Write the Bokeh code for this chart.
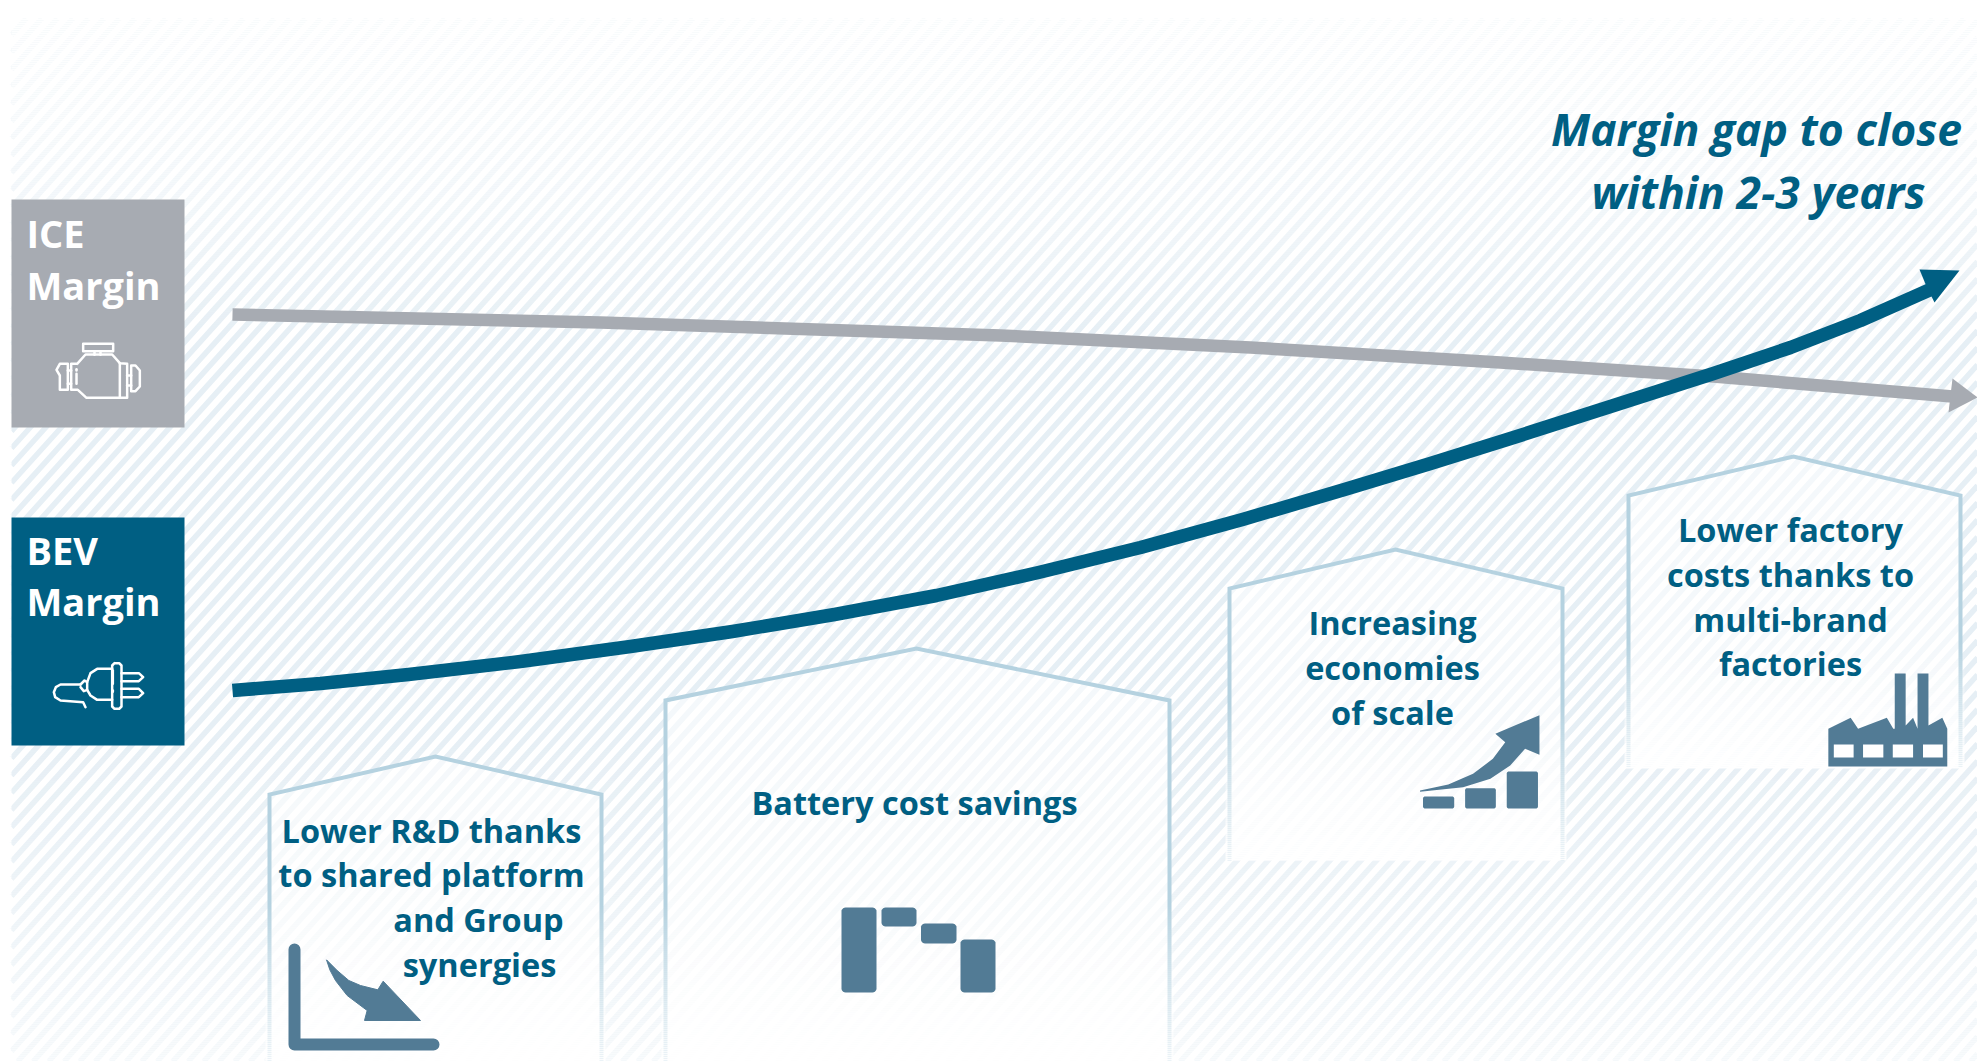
import numpy as np
from bokeh.core.properties import value
from bokeh.embed import file_html
from bokeh.models import Range1d
from bokeh.plotting import figure
from bokeh.resources import INLINE

W, H = 1977, 1061
TEAL = "#005f83"
GREY = "#a7abb2"
ICON = "#527b95"
EDGE = "#b5d2e0"
STRIPE = "#e6eff5"
FONT = value("Open Sans")

# Margin trajectories, in page units
bev_x = [232, 320, 408, 520, 630, 732, 834, 936, 1038, 1140, 1242, 1344, 1430, 1510, 1610, 1713, 1790, 1860, 1930]
bev_margin = [690, 683, 674, 661, 646, 631, 614, 595, 572, 547, 519, 489, 463, 438, 406, 373, 347, 320, 289]
ice_x = [232, 600, 1000, 1250, 1500, 1713, 1952]
ice_margin = [314, 322, 335, 347, 362, 376, 396]

# Building blocks: title, left, right, eave, peak, bottom, fade start
houses = [
    ("r&d", 269, 601, 794, 435, 756, 1061, 900),
    ("battery", 665, 1169, 700, 916, 648, 1061, 900),
    ("scale", 1229, 1562, 588, 1395, 549, 860, 700),
    ("factory", 1628, 1960, 495, 1793, 456, 767, 640),
]

# Captions: text, centre, baseline
captions = [
    ("Lower R&D thanks", 431, 843), ("to shared platform", 431, 887),
    ("and Group", 478, 932), ("synergies", 479, 977),
    ("Battery cost savings", 914, 815),
    ("Increasing", 1392, 635), ("economies", 1392, 680), ("of scale", 1392, 725),
    ("Lower factory", 1790, 542), ("costs thanks to", 1790, 587),
    ("multi-brand", 1790, 632), ("factories", 1790, 676),
]
headline = [("Margin gap to close", 1756, 146), ("within 2-3 years", 1758, 209)]
box_labels = [("ICE", 26, 247), ("Margin", 26, 299), ("BEV", 26, 564), ("Margin", 26, 615)]

p = figure(width=W, height=H, output_backend="svg", toolbar_location=None,
           x_range=Range1d(0, W), y_range=Range1d(H, 0), min_border=0,
           outline_line_color=None, background_fill_color="white",
           border_fill_color="white", x_axis_type=None, y_axis_type=None)
p.grid.visible = False


def place(ox, oy, sx, sy, coords):
    """Scale a zoomed-in sketch of an icon back to page units."""
    return [ox + c[0] / sx for c in coords], [oy + c[1] / sy for c in coords]


def rounded(x0, y0, x1, y1, r):
    """Outline of a rounded rectangle."""
    t = np.linspace(0, np.pi / 2, 6)
    xs, ys = [], []
    for cx, cy, a in [(x1 - r, y0 + r, -np.pi / 2), (x1 - r, y1 - r, 0),
                      (x0 + r, y1 - r, np.pi / 2), (x0 + r, y0 + r, np.pi)]:
        xs += list(cx + r * np.cos(t + a))
        ys += list(cy + r * np.sin(t + a))
    return xs, ys


def white_bands(left, right, y0, y1, a0, a1, power=1.0):
    """White veil whose opacity runs from a0 at y0 to a1 at y1."""
    edges = np.arange(y0, y1 + 2, 2)
    top, bottom = edges[:-1], edges[1:]
    f = (top - y0) / max(y1 - y0, 1)
    p.quad(left=left, right=right, top=top, bottom=bottom, fill_color="white",
           fill_alpha=a0 + (a1 - a0) * f ** power, line_color=None)


# Hatched background: lines x + k*y = c clipped to the hatched area
PERIOD = 15.5
K = 0.9
X0, Y0 = 11, 18
sx, sy, ex, ey = [], [], [], []
for c in np.arange(X0, W + K * H + PERIOD, PERIOD):
    x_a = max(X0, c - K * H)
    x_b = min(W, c - K * Y0)
    if x_b > x_a:
        sx.append(x_a); sy.append((c - x_a) / K)
        ex.append(x_b); ey.append((c - x_b) / K)
p.segment(sx, sy, ex, ey, line_color=STRIPE, line_width=5.5)
white_bands(0, W, 0, Y0, 1.0, 1.0)
white_bands(0, X0, 0, H, 1.0, 1.0)
white_bands(X0, W, Y0, 340, 0.96, 0.0, power=1.4)
white_bands(X0, W, 700, H, 0.0, 0.75, power=1.2)

# Blocks under the margin curves
for name, l, r, eave, px_, py_, bottom, fade in houses:
    xs = [l, l, px_, r, r]
    ys = [bottom, eave, py_, eave, bottom]
    p.patch(xs, ys, fill_color="white", fill_alpha=0.55, line_color=None)
    p.line(xs, ys, line_color=EDGE, line_width=4, line_join="miter")
    white_bands(l - 4, r + 4, fade, bottom, 0.0, 0.97)

# Legend boxes
p.quad(left=[11, 11], right=[184, 184], top=[199, 517], bottom=[427, 745],
       fill_color=[GREY, TEAL], line_color=None)
p.text([t[1] for t in box_labels], [t[2] for t in box_labels], [t[0] for t in box_labels],
       text_color="white", text_font=FONT, text_font_style="bold", text_font_size="38px",
       text_align="left", text_baseline="alphabetic", y_offset=-15)

# Engine pictogram
engine = [
    [(128, 40), (218, 40), (218, 62), (128, 62), (128, 40)],
    [(162, 62), (162, 73)], [(180, 62), (180, 73)],
    [(110, 100), (135, 72), (215, 72), (238, 98), (260, 100), (260, 202), (138, 202), (112, 178), (92, 178), (92, 100), (110, 100)],
    [(238, 98), (238, 202)],
    [(260, 135), (272, 135)], [(260, 165), (272, 165)],
    [(272, 105), (285, 105), (298, 120), (298, 168), (285, 182), (272, 182), (272, 105)],
    [(82, 100), (58, 100), (48, 118), (58, 135), (58, 178), (82, 178), (82, 100)],
    [(82, 120), (92, 120)], [(82, 160), (92, 160)],
    [(108, 130), (108, 160)], [(108, 116), (108, 120)],
]
# Plug pictogram
plug = [
    [(135, 170), (128, 155), (60, 150), (44, 140), (40, 125), (46, 110), (60, 102), (120, 102)],
    [(120, 102), (132, 90), (140, 95), (140, 118), (130, 122), (120, 110)],
    [(140, 95), (150, 68), (170, 55), (215, 55)],
    [(140, 118), (150, 135), (170, 148), (215, 148)],
    [(222, 38), (236, 38), (243, 45), (243, 168), (236, 175), (222, 175), (215, 168), (215, 45), (222, 38)],
    [(217, 60), (217, 100)], [(217, 120), (217, 124)],
    [(243, 68), (295, 68), (308, 80), (295, 92), (243, 92)],
    [(243, 115), (295, 115), (308, 128), (295, 140), (243, 140)],
]
for shape, ox, oy in [(engine, 40, 330), (plug, 40, 650)]:
    placed = [place(ox, oy, 3, 3, s) for s in shape]
    p.multi_line([s[0] for s in placed], [s[1] for s in placed], line_color="white",
                 line_width=2.5, line_join="round", line_cap="round")

# Margin curves
p.line(ice_x, ice_margin, line_color=GREY, line_width=12.5, line_join="round")
p.patch([1952, 1977, 1948, 1950], [378, 397, 412, 395], fill_color=GREY, line_color=None)
p.line(bev_x, bev_margin, line_color=TEAL, line_width=13.5, line_join="round")
p.patch([1919, 1959, 1934, 1926], [269, 270, 302, 286], fill_color=TEAL, line_color=None)

# Chart-falling pictogram
p.line([294, 294, 433], [949, 1044, 1044], line_color=ICON, line_width=12, line_join="round", line_cap="round")
xs, ys = place(270, 930, 3, 3, [(168, 88), (178, 118), (195, 150), (230, 195), (290, 240), (282, 270), (450, 270),
                                (338, 152), (322, 178), (270, 165), (235, 150), (200, 120)])
p.patch(xs, ys, fill_color=ICON, line_color=ICON, line_width=1)

# Waterfall pictogram
for x0, y0, x1, y1 in [(841, 907, 876, 992), (881, 907, 916, 926), (920.5, 923, 956, 943), (960, 939, 995, 992)]:
    xs, ys = rounded(x0, y0, x1, y1, 4)
    p.patch(xs, ys, fill_color=ICON, line_color=None)

# Rising-bars pictogram
for a, b, c, d in [(449, 1068, 512, 1104), (534, 1043, 596, 1104), (618, 993, 681, 1104)]:
    xs, ys = place(1200, 440, 2.018, 3, [(a, b), (c, d)])
    r_xs, r_ys = rounded(xs[0], ys[0], xs[1], ys[1], 2)
    p.patch(r_xs, r_ys, fill_color=ICON, line_color=None)
xs, ys = place(1200, 440, 2.018, 3, [(443, 1050), (500, 1032), (550, 1000), (590, 955), (615, 905), (595, 880), (684, 824),
                                     (684, 943), (655, 925), (625, 975), (585, 1015), (530, 1040), (443, 1054)])
p.patch(xs, ys, fill_color=ICON, line_color=None)

# Factory pictogram
xs, ys = place(1200, 440, 2.018, 3, [
    (1267, 978), (1267, 865), (1312, 832), (1327, 865), (1385, 832), (1398, 865), (1401, 865), (1401, 699),
    (1423, 699), (1423, 855), (1438, 832), (1447, 865), (1447, 699), (1469, 699), (1469, 855), (1497, 832),
    (1507, 865), (1507, 978)])
p.patch(xs, ys, fill_color=ICON, line_color=None)
for a, c in [(1278, 1318), (1337, 1378), (1397, 1438), (1458, 1498)]:
    xs, ys = place(1200, 440, 2.018, 3, [(a, 912), (c, 951)])
    p.quad(left=[xs[0]], right=[xs[1]], top=[ys[0]], bottom=[ys[1]], fill_color="white", line_color=None)

# Captions and headline
p.text([t[1] for t in captions], [t[2] for t in captions], [t[0] for t in captions],
       text_color=TEAL, text_font=FONT, text_font_style="bold", text_font_size="32.5px",
       text_align="center", text_baseline="alphabetic", y_offset=-13)
p.text([t[1] for t in headline], [t[2] for t in headline], [t[0] for t in headline],
       text_color=TEAL, text_font=FONT, text_font_style="bold italic", text_font_size="44.5px",
       text_align="center", text_baseline="alphabetic", y_offset=-18)

open("out.html", "w").write(file_html(p, INLINE))
